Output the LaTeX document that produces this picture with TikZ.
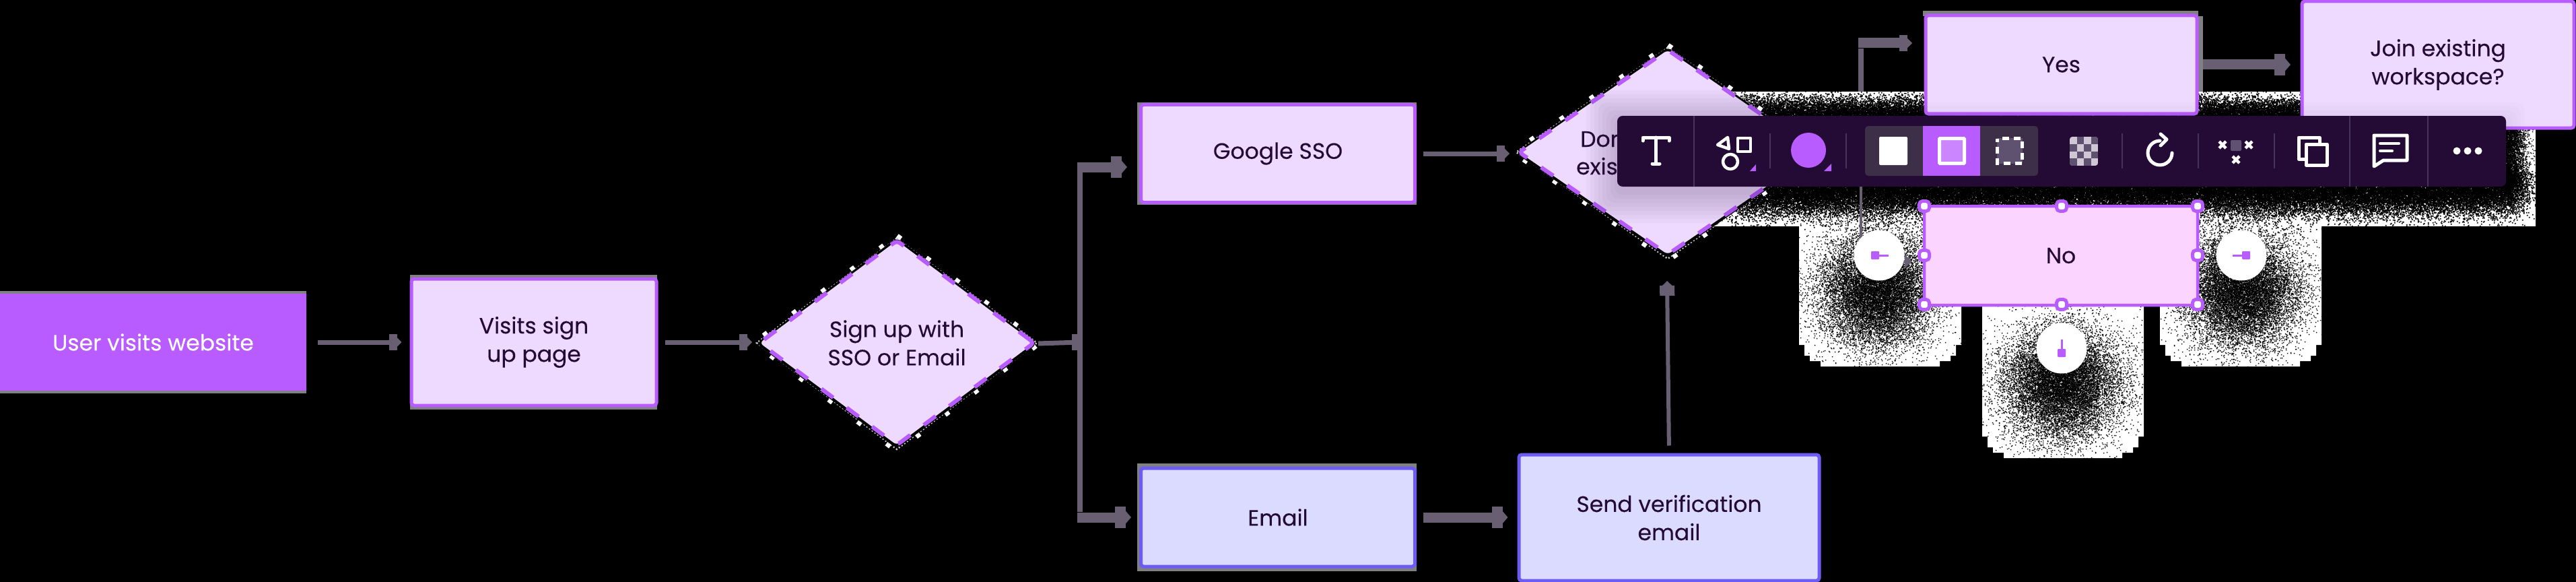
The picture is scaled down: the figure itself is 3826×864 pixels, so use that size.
\documentclass[tikz,border=0pt]{standalone}
\usepackage{fontspec}
\setmainfont{Poppins}[FakeBold=0.2]
\usetikzlibrary{arrows.meta,shapes.geometric}
\definecolor{purp}{HTML}{B85CFF}
\definecolor{lilac}{HTML}{EED9FF}
\definecolor{pinkf}{HTML}{FBD5FF}
\definecolor{bluef}{HTML}{DBDAFF}
\definecolor{blueb}{HTML}{6C5CF5}
\definecolor{ink}{HTML}{240B36}
\definecolor{wire}{HTML}{685F72}
\definecolor{fringe}{HTML}{808080}
\definecolor{segm}{HTML}{3D2F47}
\definecolor{sepc}{HTML}{45335A}
\definecolor{chkl}{HTML}{CFC8D4}
\definecolor{chkd}{HTML}{5F5270}
\tikzset{
  thintip/.tip={Rectangle[length=12pt,width=24pt]Triangle[length=7pt,width=14pt]},
  thicktip/.tip={Rectangle[length=16pt,width=32pt]Triangle[length=8pt,width=18pt]},
  wirethin/.style={draw=wire,line width=7pt,-{thintip}},
  wirethick/.style={draw=wire,line width=15pt,-{thicktip}},
  label/.style={font=\fontsize{33}{42}\selectfont,text=ink,align=center,inner sep=0pt},
  tbox/.style={rectangle,draw=purp,fill=lilac,line width=5pt,rounded corners=4pt,label},
  bbox/.style={tbox,draw=blueb,fill=bluef},
  dbox/.style={diamond,draw=purp,fill=lilac,line width=6pt,rounded corners=6pt,
     dash pattern=on 22pt off 25pt,label},
  fringed/.style={fill=fringe},
  jagblocks/.style={draw=white,line width=9pt,dash pattern=on 7pt off 47pt},
  jagspeck/.style={draw=white!80!black,line width=2.5pt,dash pattern=on 2pt off 3pt},
  jagring/.style={draw=black,line width=5pt,rounded corners=6pt},
  handle/.style={rectangle,draw=purp,fill=white,line width=5pt,rounded corners=5pt,
     minimum width=15pt,minimum height=15pt,inner sep=0pt},
  puck/.style={circle,fill=white,minimum size=75pt,inner sep=0pt},
  ico/.style={draw=white,line width=5pt,line cap=round,line join=round},
  sepfull/.style={draw=sepc,line width=2.5pt},
  sepshort/.style={draw=sepc,line width=2pt},
}
\makeatletter
\def\fourx#1{#1#1#1#1}
\newcount\dtc
% gaussian blob: N-chunks cx cy sx sy
\newcommand\gaussdots[5]{\dtc=#1\relax
  \loop\ifnum\dtc>0
    \edef\dtmp{\fourx{\fourx{\fourx{\the\numexpr#2+\normaldeviate*#4/65536\relax\space\the\numexpr#3+\normaldeviate*#5/65536\relax\space 1.5 1.5 re }}}}%
    \pgfsys@invoke{q 0.99626 0 0 -0.99626 0 0 cm 0 g \dtmp f Q}%
    \advance\dtc-1
  \repeat}
% band: N-chunks x0 xrange cy sy
\newcommand\banddots[5]{\dtc=#1\relax
  \loop\ifnum\dtc>0
    \edef\dtmp{\fourx{\fourx{\fourx{\the\numexpr#2+\uniformdeviate#3+\normaldeviate*15/65536\relax\space\the\numexpr#4+\normaldeviate*#5/65536\relax\space 1.7 1.7 re }}}}%
    \pgfsys@invoke{q 0.99626 0 0 -0.99626 0 0 cm 0 g \dtmp f Q}%
    \advance\dtc-1
  \repeat}
\newcommand\sidedots[5]{\dtc=#1\relax
  \loop\ifnum\dtc>0
    \edef\dtmp{\fourx{\fourx{\fourx{\the\numexpr#2+\normaldeviate*#3/65536\relax\space\the\numexpr#4+\uniformdeviate#5\relax\space 1.5 1.5 re }}}}%
    \pgfsys@invoke{q 0.99626 0 0 -0.99626 0 0 cm 0 g \dtmp f Q}%
    \advance\dtc-1
  \repeat}
\makeatother
\newcommand\lobe[4]{% x1 x2 ytop ybot
  \fill[white] (#1,#3) -- (#1,#4-32) -- (#1+8,#4-32) -- (#1+8,#4-16) -- (#1+16,#4-16) -- (#1+16,#4-8)
   -- (#1+32,#4-8) -- (#1+32,#4) -- (#2-32,#4) -- (#2-32,#4-8) -- (#2-16,#4-8) -- (#2-16,#4-16)
   -- (#2-8,#4-16) -- (#2-8,#4-32) -- (#2,#4-32) -- (#2,#3) -- cycle;}
\newcommand\barshadow[2]{\foreach \d in {4,10,...,#2}
  \fill[ink,opacity=#1,rounded corners=12pt] (2402-\d,172-\d+8) rectangle (3722+\d,277+\d+8);}
\newcommand\jagged[4]{% cx cy hw hh
  \path[jagblocks] (#1,#2-#4-5) -- (#1+#3+6,#2) -- (#1,#2+#4+7) -- (#1-#3-6,#2) -- cycle;
  \path[jagspeck] (#1,#2-#4-2) -- (#1+#3+3,#2) -- (#1,#2+#4+5) -- (#1-#3-3,#2) -- cycle;
  \path[jagring] (#1,#2-#4) -- (#1+#3,#2+1) -- (#1,#2+#4+1) -- (#1-#3,#2+1) -- cycle;}
\begin{document}
\begin{tikzpicture}[x=1pt,y=-1pt]
\useasboundingbox (0,0) rectangle (3826,864);
\fill[black] (0,0) rectangle (3826,864);

% white halo of the toolbar shadow
\fill[white] (2480,136) rectangle (3766,336);
\lobe{2672}{2913}{300}{544}
\lobe{3208}{3448}{300}{544}
\lobe{2944}{3184}{440}{680}
\setrandomseed 4242
\banddots{900}{2560}{1180}{172}{14}
\banddots{1350}{2560}{1180}{279}{20}
\sidedots{90}{3722}{15}{172}{105}
\gaussdots{220}{2789}{430}{44}{43}
\gaussdots{220}{3329}{430}{44}{43}
\gaussdots{220}{3062}{568}{44}{43}

% fringes of pale grey round the boxes
\fill[fringed] (0,432) rectangle (455,584);
\fill[fringed] (609,408) rectangle (976,608);
\fill[fringed] (1689,152) rectangle (2104,304);
\fill[fringed] (1689,688) rectangle (2104,848);
\fill[fringed] (2856,16) rectangle (3265,24);
\fill[fringed] (3265,24) rectangle (3272,136);

% nodes
\node[rectangle,fill=purp,minimum width=455pt,minimum height=144pt,inner sep=0pt,
  font=\fontsize{33}{42}\selectfont,text=white] (start) at (227.5,508) {User visits website};
\node[tbox,minimum width=364pt,minimum height=188pt] (visits) at (793,508) {Visits sign\\up page};

\jagged{1332}{509}{205}{153}
\node[dbox,minimum width=410pt,minimum height=306pt] (sign) at (1332,509) {Sign up with\\SSO or Email};

\node[tbox,minimum width=407pt,minimum height=145pt] (google) at (1898,228) {Google SSO};
\node[bbox,minimum width=407pt,minimum height=146pt] (email) at (1898,768) {Email};
\node[bbox,minimum width=446pt,minimum height=187pt] (send) at (2479,768.5) {Send verification\\email};

\jagged{2477}{226}{222}{153}
\node[dbox,minimum width=444pt,minimum height=306pt] (decide) at (2477,226) {};
\node[label,anchor=base west] (declineone) at (2347,218) {Don};
\node[label,anchor=base west] (declinetwo) at (2341,259) {exist};

\node[tbox,minimum width=403pt,minimum height=146pt] (yes) at (3061.5,96) {Yes};
\node[tbox,minimum width=404pt,minimum height=188pt] (join) at (3621,96) {Join existing\\workspace?};
\node[tbox,fill=pinkf,minimum width=406pt,minimum height=147pt,line width=4.5pt] (no) at (3061,379.5) {No};

% soft shadow of the toolbar on the shapes it covers
\begin{scope}
  \clip (decide.north) -- (decide.east) -- (decide.south) -- (decide.west) -- cycle;
  \barshadow{.028}{46}
\end{scope}
\begin{scope}
  \clip (yes.north west) rectangle (yes.south east);
  \barshadow{.012}{28}
\end{scope}
\begin{scope}
  \clip (join.north west) rectangle (join.south east);
  \barshadow{.012}{28}
\end{scope}

% connectors
\coordinate (trunk) at (1604,508);
\coordinate (trunktop) at (1604,248);
\coordinate (trunkbot) at (1604,768);
\coordinate (googlein) at (1674,248);
\coordinate (emailin) at (1680,768);
\coordinate (branch) at (2764,226);
\coordinate (yeselbow) at (2764,64);
\coordinate (yeswire) at (2764,136);
\coordinate (yesin) at (2840,64);
\coordinate (nowire) at (2764,388);
\coordinate (noin) at (2840,388);

\draw[wirethin,shorten <=17pt,shorten >=12pt] (start.east) -- (visits.west);
\draw[wirethin,shorten <=10pt,shorten >=7pt] (visits.east) -- (visits.east -| sign.west);
\draw[draw=wire,line width=7pt] (sign.east) ++(2pt,-1pt) -- (trunk);
\fill[wire] (1592,496) rectangle (1604,520);
\draw[draw=wire,line width=8pt] ([yshift=-8pt]trunktop) -- ([yshift=8pt]trunkbot);
\draw[wirethick] ([xshift=-4pt]trunktop) -- (googlein);
\draw[wirethick] ([xshift=-4pt]trunkbot) -- (emailin);
\draw[wirethin,shorten <=10pt,shorten >=10pt] (google.east) -- (google.east -| decide.west);
\draw[wirethick,shorten <=10pt,shorten >=14pt] (email.east) -- (send.west |- email.east);
\draw[draw=wire,line width=6pt,-{Rectangle[length=15pt,width=22pt]Triangle[length=7pt,width=14pt]},shorten <=11pt] (send.north) -- (2476,417);
\draw[draw=wire,line width=15pt,-{thicktip}] (3272,96) -- (3402,96);
\draw[draw=wire,line width=4pt] (branch) -- (nowire);
\draw[draw=wire,line width=8pt] (yeswire) -- ([yshift=-8pt]yeselbow);
\draw[draw=wire,line width=4pt] (decide.east) -- (branch);
\draw[draw=wire,line width=15pt,-{thintip}] ([xshift=-4pt]yeselbow) -- (yesin);
\draw[draw=wire,line width=4pt,-{Triangle[length=11pt,width=19pt]}] (nowire) -- (noin);

% pucks round the selected box
\node[puck] (pleft) at (2791,379) {};
\node[puck] (pright) at (3329,379) {};
\node[puck] (pdown) at (3062,517) {};
\fill[purp,rounded corners=1pt] (2779,373) rectangle (2791,385);
\draw[purp,line width=3pt] (2791,379) -- (2805,379);
\fill[purp,rounded corners=1pt] (3330,373) rectangle (3342,385);
\draw[purp,line width=3pt] (3316,379) -- (3330,379);
\fill[purp,rounded corners=1pt] (3056,518) rectangle (3068,530);
\draw[purp,line width=3pt] (3062,504) -- (3062,518);

% handles
\foreach \nm/\hx/\hy in {ha/2858/306,hb/3062/306,hc/3264/306,hd/2858/379,he/3264/379,hf/2858/452,hg/3062/452,hh/3264/452}
  \node[handle] (\nm) at (\hx,\hy) {};

% toolbar
\fill[ink,rounded corners=8pt] (2402,172) rectangle (3722,277);
\draw[sepfull] (2516,172) -- (2516,277);
\draw[sepfull] (3490,172) -- (3490,277);
\draw[sepfull] (3606,172) -- (3606,277);
\foreach \sx in {2629,2742,3152,3265,3378}
  \draw[sepshort] (\sx,198) -- (\sx,250);
% T
\draw[ico] (2440,209) -- (2440,204) -- (2479,204) -- (2479,209);
\draw[ico] (2459.5,204) -- (2459.5,243);
\draw[ico] (2454,243) -- (2465,243);
% shapes
\draw[ico,line width=4.5pt] (2566,204) -- (2551,215) -- (2568,221) -- cycle;
\draw[ico,line width=4.5pt] (2581,205) rectangle (2600,225);
\draw[ico,line width=4.5pt] (2570,240) circle (11pt);
\fill[purp] (2599,254) -- (2608,244) -- (2608,254) -- cycle;
% colour
\fill[purp] (2686,223) circle (26pt);
\fill[purp] (2709,254) -- (2720,243) -- (2720,254) -- cycle;
% fill styles
\fill[segm,rounded corners=5pt] (2770,187) rectangle (3027,261);
\fill[purp] (2856,187) rectangle (2941,261);
\fill[white,rounded corners=2pt] (2791,203) rectangle (2833,245);
\draw[white,line width=5pt,fill=purp!75!white,rounded corners=1pt] (2880.5,205.5) rectangle (2917.5,242.5);
\fill[chkd] (2966,205) rectangle (3004,243);
\draw[white,line width=5pt,dash pattern=on 10pt off 7pt,dash phase=5pt] (2966.5,205.5) rectangle (3003.5,242.5);
% checker
\begin{scope}
  \clip[rounded corners=4pt] (3074,203) rectangle (3116,246);
  \fill[chkl] (3074,203) rectangle (3116,246);
  \foreach \ci in {0,1,2,3} \foreach \cj in {0,1,2,3} {
    \pgfmathparse{int(mod(\ci+\cj,2))}
    \ifnum\pgfmathresult=1
      \fill[chkd] (3074+\ci*10.5,203+\cj*10.75) rectangle ++(10.5,10.75);
    \fi}
\end{scope}
% rotate
\draw[ico] (3226,227) arc[start angle=0,end angle=270,x radius=18pt,y radius=-18pt];
\draw[ico] (3209,199) -- (3218,207) -- (3209,216);
% grid
\fill[chkd,rounded corners=2pt] (3313,208) rectangle (3329,224);
\foreach \gx/\gy in {3301/215,3340/215,3321/237} {
  \draw[white,line width=4.5pt] (\gx-5,\gy-5) -- (\gx+5,\gy+5);
  \draw[white,line width=4.5pt] (\gx-5,\gy+5) -- (\gx+5,\gy-5);
}
% copy
\draw[ico,line width=5pt] (3414,204) rectangle (3445,236);
\draw[ico,line width=5pt,fill=ink] (3425,214) rectangle (3456,245);
% comment
\draw[ico,line width=5pt] (3526,201) -- (3575,201) -- (3575,238) -- (3540,238) -- (3526,247) -- cycle;
\draw[ico,line width=4pt] (3535,213) -- (3563,213);
\draw[ico,line width=4pt] (3535,224) -- (3553,224);
% dots
\foreach \dx in {3649,3665,3681} \fill[white] (\dx,224) circle (5.5pt);
\end{tikzpicture}
\end{document}
